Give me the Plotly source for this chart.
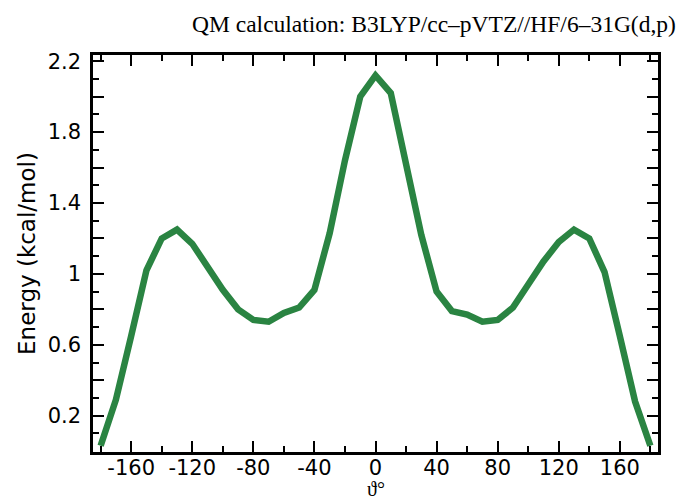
import plotly.graph_objects as go

# torsion angle (deg) and relative energy (kcal/mol)
angle = [-180, -170, -160, -150, -140, -130, -120, -110, -100, -90,
         -80, -70, -60, -50, -40, -30, -20, -10, 0, 10,
         20, 30, 40, 50, 60, 70, 80, 90, 100, 110,
         120, 130, 140, 150, 160, 170, 180]
energy = [0.03, 0.29, 0.65, 1.02, 1.20, 1.25, 1.17, 1.04, 0.91, 0.80,
          0.74, 0.73, 0.78, 0.81, 0.91, 1.23, 1.64, 2.00, 2.12, 2.02,
          1.63, 1.22, 0.90, 0.79, 0.77, 0.73, 0.74, 0.81, 0.94, 1.07,
          1.18, 1.25, 1.20, 1.01, 0.65, 0.28, 0.03]

x_ticks = [-160, -120, -80, -40, 0, 40, 80, 120, 160]
y_ticks = [0.2, 0.4, 0.6, 0.8, 1.0, 1.2, 1.4, 1.6, 1.8, 2.0, 2.2]
y_labels = ['0.2', '', '0.6', '', '1', '', '1.4', '', '1.8', '', '2.2']

title = 'QM calculation: B3LYP/cc\u2013pVTZ//HF/6\u201331G(d,p)'

fig = go.Figure()
fig.add_trace(go.Scatter(
    x=angle,
    y=energy,
    mode='lines',
    line=dict(color='#2a8442', width=6.5),
))

axis_common = dict(
    showline=True,
    linecolor='black',
    linewidth=2.5,
    mirror='ticks',
    ticks='inside',
    tickcolor='black',
    tickwidth=2,
    ticklen=11,
    showgrid=False,
    zeroline=False,
    automargin=False,
    tickfont=dict(family='DejaVu Sans', size=21, color='black'),
)

fig.update_xaxes(
    range=[-185, 185],
    tickvals=x_ticks,
    ticktext=[str(v) for v in x_ticks],
    minor=dict(dtick=20, tick0=0, ticks='inside', ticklen=6, tickwidth=2, tickcolor='black'),
    ticklabelstandoff=-5,
    **axis_common
)
fig.update_yaxes(
    range=[-0.005, 2.235],
    tickvals=y_ticks,
    ticktext=y_labels,
    minor=dict(dtick=0.1, tick0=0, ticks='inside', ticklen=6, tickwidth=2, tickcolor='black'),
    ticklabelstandoff=5,
    title=dict(text='Energy (kcal/mol)', font=dict(family='DejaVu Sans', size=23, color='black'), standoff=6),
    **axis_common
)

fig.add_annotation(
    text=title,
    xref='paper', yref='paper',
    x=1.036, y=1.078,
    xanchor='right', yanchor='middle',
    showarrow=False,
    font=dict(family='Liberation Serif', size=23.5, color='black'),
)
fig.add_annotation(
    text='\u03d1\u00b0',
    xref='paper', yref='paper',
    x=0.5, y=-0.092,
    xanchor='center', yanchor='middle',
    showarrow=False,
    font=dict(family='Liberation Serif', size=20, color='black'),
)

# page body keeps an 8px margin, so the plot area is set 8px up/left
fig.update_layout(
    width=686,
    height=500,
    margin=dict(l=85, r=36, t=47, b=56, pad=0),
    plot_bgcolor='white',
    paper_bgcolor='white',
    showlegend=False,
)

fig.write_html("out.html")
